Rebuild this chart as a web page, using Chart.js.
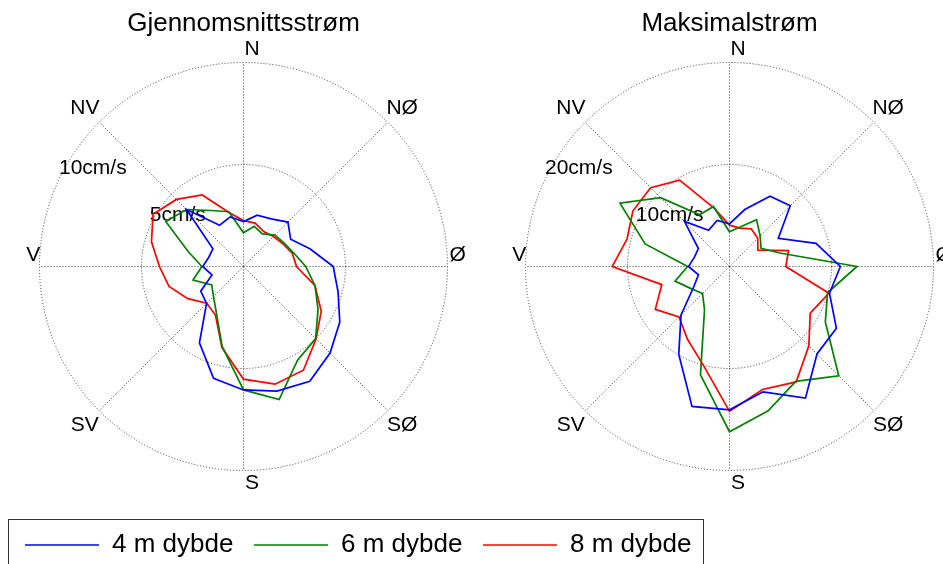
<!DOCTYPE html>
<html>
<head>
<meta charset="utf-8">
<script src="https://cdn.jsdelivr.net/npm/chart.js@4.4.1/dist/chart.umd.min.js"></script>
<style>
  html, body { margin: 0; padding: 0; background: #fff; overflow: hidden; }
  #wrap { position: relative; width: 943px; height: 568px; }
</style>
</head>
<body>
<div id="wrap"><canvas id="rose" width="943" height="568"></canvas></div>
<script>
// Current direction sectors, 15° each, clockwise from north
const sectors = ['0°','15°','30°','45°','60°','75°','90°','105°','120°','135°','150°','165°',
                 '180°','195°','210°','225°','240°','255°','270°','285°','300°','315°','330°','345°'];
// Compass names for every third sector (0°, 45°, ... 315°)
const compassNames = ['N', 'NØ', 'Ø', 'SØ', 'S', 'SV', 'V', 'NV'];

// Mean current speed (cm/s) per sector
const mean4m = [2.2, 2.6, 2.7, 3.08, 2.67, 3.37, 4.4, 4.8, 5.45, 6.0, 6.5, 6.32,
                6.05, 5.67, 4.32, 2.56, 2.42, 1.6, 2.0, 1.76, 1.73, 3.95, 2.34, 2.52];
const mean6m = [1.65, 2.04, 1.85, 2.18, 2.3, 2.55, 3.05, 3.63, 4.22, 5.0, 5.3, 6.75,
                6.05, 4.05, 2.65, 2.08, 1.8, 2.56, 2.04, 2.8, 4.4, 3.95, 3.17, 2.78];
const mean8m = [2.25, 2.2, 1.98, 2.08, 2.23, 2.48, 2.6, 3.63, 4.4, 5.03, 5.87, 5.97,
                5.52, 4.1, 2.75, 2.55, 3.15, 3.78, 4.12, 4.67, 5.12, 4.65, 4.05, 2.74];

// Maximum current speed (cm/s) per sector
const max4m = [4.18, 5.78, 7.95, 8.42, 5.53, 8.78, 10.87, 10.15, 12.1, 12.13, 14.9, 12.72,
               14.05, 14.2, 9.95, 6.72, 4.07, 3.15, 4.02, 3.56, 3.52, 6.25, 4.1, 4.67];
const max6m = [3.4, 4.0, 5.3, 4.25, 3.57, 5.1, 12.5, 9.95, 10.85, 15.15, 13.0, 14.65,
               16.2, 11.0, 4.9, 3.74, 4.34, 5.53, 4.1, 8.56, 12.4, 9.55, 5.85, 6.09];
const max8m = [4.05, 3.9, 4.27, 3.91, 3.22, 5.99, 5.52, 10.1, 9.14, 11.0, 13.07, 12.48,
               14.2, 9.98, 8.24, 7.0, 8.4, 6.87, 11.5, 10.4, 10.93, 10.93, 9.78, 5.96];

// Ring values and titles
const meanRings = [5, 10];
const maxRings = [10, 20];
const speedUnit = 'cm/s';
const titles = ['Gjennomsnittsstrøm', 'Maksimalstrøm'];
const depthLabels = ['4 m dybde', '6 m dybde', '8 m dybde'];
const depthColors = ['#0000ff', '#008000', '#ff0000'];

const FONT = '"Liberation Sans", Arial, Helvetica, sans-serif';
const RADIUS = 204;
const CENTER_Y = 266.5;
const CENTERS_X = [243.5, 729.5];
const GRID_COLOR = '#3a3a3a';

function polarScale(rings, cx) {
  return {
    type: 'radialLinear',
    axis: 'r',
    min: 0,
    max: rings[rings.length - 1],
    ticks: { display: false, stepSize: rings[0] },
    pointLabels: { display: false },
    grid: { circular: true, color: GRID_COLOR, lineWidth: 1 },
    border: { dash: [1, 2] },
    angleLines: {
      color: GRID_COLOR,
      lineWidth: ctx => (ctx.index % 3 === 0 ? 1 : 0),
      borderDash: [1, 2]
    },
    afterFit: s => {
      s.xCenter = cx;
      s.yCenter = CENTER_Y;
      s.drawingArea = RADIUS;
    }
  };
}

function series(label, data, color, axis) {
  return {
    label, data, rAxisID: axis,
    borderColor: color, backgroundColor: color,
    borderWidth: 1.7, fill: false, tension: 0,
    pointRadius: 0, pointHoverRadius: 0
  };
}

// Titles, compass names and ring labels, placed from each radial scale
const polarText = {
  id: 'polarText',
  beforeDatasetsDraw(chart) {
    const ctx = chart.ctx;
    const ringSets = [meanRings, maxRings];
    ['rL', 'rR'].forEach((id, k) => {
      const s = chart.scales[id];
      ctx.save();
      ctx.fillStyle = '#000';

      ctx.font = '26px ' + FONT;
      ctx.textAlign = 'center';
      ctx.textBaseline = 'alphabetic';
      ctx.fillText(titles[k], s.xCenter, s.yCenter - s.drawingArea - 31.5);

      ctx.font = '21px ' + FONT;
      ctx.textBaseline = 'middle';
      compassNames.forEach((name, j) => {
        const idx = j * 3;
        const diagonal = j % 2 === 1;
        const vertical = j === 0 || j === 4;
        const dist = s.drawingArea * (diagonal ? 1.1 : (vertical ? 1.063 : 1.04));
        const p = s.getPointPosition(idx, dist);
        const dx = vertical ? 8.5 : (diagonal ? 0 : 2);
        const dy = (!vertical && !diagonal) ? -11.5 : 0;
        ctx.fillText(name, p.x + dx, p.y + dy);
      });

      ctx.textAlign = 'left';
      ctx.textBaseline = 'alphabetic';
      ringSets[k].forEach(v => {
        const p = s.getPointPosition(19.8, s.getDistanceFromCenterForValue(v) + 2);
        ctx.fillText(v + speedUnit, p.x - 1, p.y + 1.5);
      });
      ctx.restore();
    });
  }
};

// Frame around the legend entries
const legendFrame = {
  id: 'legendFrame',
  afterDraw(chart) {
    const lg = chart.legend;
    if (!lg || !lg.legendHitBoxes || !lg.legendHitBoxes.length) return;
    const boxes = lg.legendHitBoxes;
    const first = boxes[0];
    const last = boxes[boxes.length - 1];
    const midY = first.top + first.height / 2;
    const ctx = chart.ctx;
    ctx.save();
    ctx.strokeStyle = '#333';
    ctx.lineWidth = 1;
    const x0 = Math.round(first.left - 17) + 0.5;
    const x1 = Math.round(last.left + last.width + 12) + 0.5;
    const y0 = Math.round(midY - 26) + 0.5;
    ctx.strokeRect(x0, y0, x1 - x0, 80);
    ctx.restore();
  }
};

new Chart(document.getElementById('rose'), {
  type: 'radar',
  data: {
    labels: sectors,
    datasets: [
      series(depthLabels[0], mean4m, depthColors[0], 'rL'),
      series(depthLabels[1], mean6m, depthColors[1], 'rL'),
      series(depthLabels[2], mean8m, depthColors[2], 'rL'),
      series(depthLabels[0], max4m, depthColors[0], 'rR'),
      series(depthLabels[1], max6m, depthColors[1], 'rR'),
      series(depthLabels[2], max8m, depthColors[2], 'rR')
    ]
  },
  options: {
    responsive: false,
    animation: false,
    events: [],
    layout: { padding: { left: 4.4, right: 0, top: 0, bottom: 0 } },
    scales: {
      rL: polarScale(meanRings, CENTERS_X[0]),
      rR: polarScale(maxRings, CENTERS_X[1])
    },
    plugins: {
      tooltip: { enabled: false },
      title: { display: false },
      legend: {
        position: 'bottom',
        align: 'start',
        labels: {
          filter: item => item.datasetIndex < 3,
          usePointStyle: true,
          pointStyle: 'line',
          pointStyleWidth: 74,
          padding: 20.6,
          color: '#000',
          font: { size: 26, family: FONT }
        }
      }
    }
  },
  plugins: [polarText, legendFrame]
});
</script>
</body>
</html>
